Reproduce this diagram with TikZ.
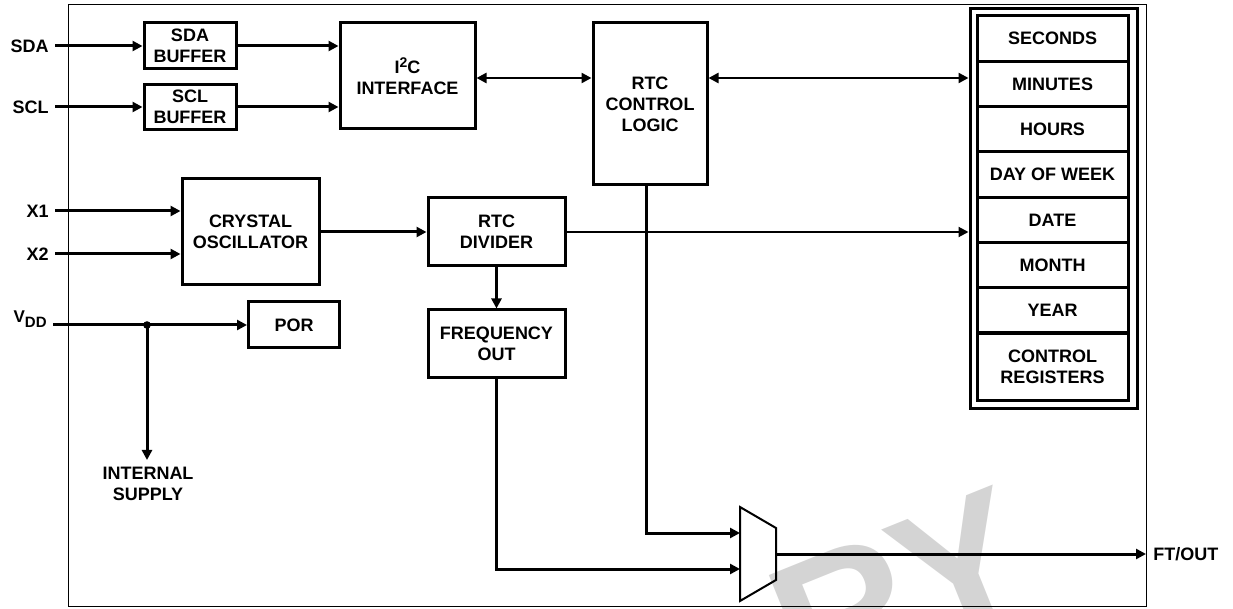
\documentclass[tikz,border=0pt]{standalone}
\usepackage{fontspec}
\setmainfont{Liberation Sans}
\usetikzlibrary{arrows.meta}
\begin{document}
\begin{tikzpicture}[x=0.5pt,y=-0.5pt,
  box/.style={draw,line width=1.5pt,inner sep=0pt,align=center,font=\bfseries\fontsize{9}{10.5}\selectfont},
  lbl/.style={inner sep=0pt,align=center,font=\bfseries\fontsize{9}{10.5}\selectfont},
  reg/.style={box,minimum width=75.5pt},
  bus/.style={line width=1.5pt,-{Triangle[length=5pt,width=5pt]}},
  thinbus/.style={line width=1pt,-{Triangle[length=5pt,width=5pt]}},
  dbl/.style={line width=1.2pt,{Triangle[length=5pt,width=5pt]}-{Triangle[length=5pt,width=5pt]}},
]
\useasboundingbox (0,0) rectangle (1233,609);
% watermark
\begin{scope}
\clip (0,0) rectangle (1233,609);
\node[rotate=22,anchor=base,inner sep=0pt,text=black!17,font=\bfseries\fontsize{95}{95}\selectfont] (wm) at (926,653) {RY};
\end{scope}
% frame
\draw[line width=0.5pt] (68,5) rectangle (1146,606);
% blocks
\node[box,minimum width=46pt,minimum height=23pt] (sdab) at (190,46) {SDA\\BUFFER};
\node[box,minimum width=46pt,minimum height=22.5pt] (sclb) at (190,107) {SCL\\BUFFER};
\node[box,minimum width=67.5pt,minimum height=53pt] (i2c) at (407.5,76) {I\raisebox{3.2pt}{\fontsize{7}{8}\selectfont 2}C\\INTERFACE};
\node[box,minimum width=57pt,minimum height=81pt] (rtc) at (650,104) {RTC\\CONTROL\\LOGIC};
\node[box,minimum width=68.5pt,minimum height=53pt] (osc) at (250.5,232) {CRYSTAL\\OSCILLATOR};
\node[box,minimum width=68.5pt,minimum height=34pt] (div) at (496.5,232) {RTC\\DIVIDER};
\node[box,minimum width=68.5pt,minimum height=34pt] (fout) at (496.5,344) {FREQUENCY\\OUT};
\node[box,minimum width=45.5pt,minimum height=23pt] (por) at (294,325) {POR};
% registers
\node[draw,line width=1.5pt,minimum width=83.5pt,minimum height=200pt,inner sep=0pt] (regs) at (1053.5,209) {};
\node[reg,minimum height=22.67pt] (r1) at (1052.5,38.67) {SECONDS};
\node[reg,minimum height=22.67pt] (r2) at (1052.5,84) {MINUTES};
\node[reg,minimum height=22.67pt] (r3) at (1052.5,129.33) {HOURS};
\node[reg,minimum height=22.67pt] (r4) at (1052.5,174.67) {DAY OF WEEK};
\node[reg,minimum height=22.67pt] (r5) at (1052.5,220) {DATE};
\node[reg,minimum height=22.67pt] (r6) at (1052.5,265.33) {MONTH};
\node[reg,minimum height=22.67pt] (r7) at (1052.5,310.67) {YEAR};
\node[reg,minimum height=34pt] (r8) at (1052.5,367) {CONTROL\\REGISTERS};
% labels
\node[lbl,anchor=east] (sda) at (49,46) {SDA};
\node[lbl,anchor=east] (scl) at (49,107) {SCL};
\node[lbl,anchor=east] (x1) at (49,211) {X1};
\node[lbl,anchor=east] (x2) at (49,254) {X2};
\node[lbl,anchor=base east] (vdd) at (47,328) {\raisebox{2.5pt}{\fontsize{8.5}{9}\selectfont V}\fontsize{7.5}{8}\selectfont DD};
\node[lbl,anchor=west] (ft) at (1153,554) {FT/OUT};
\node[lbl,anchor=north] (isup) at (148,467) {INTERNAL\\SUPPLY};
% coordinates
\coordinate (busy) at (0,78);
\coordinate (vdot) at (147,325);
\coordinate (m1) at (740,507);
\coordinate (m2) at (776,528);
\coordinate (m3) at (776,580);
\coordinate (m4) at (740,601);
\coordinate (mi1) at (740,533);
\coordinate (mi2) at (740,569);
\coordinate (mo) at (776,554);
% mux
\draw[line width=1pt,line join=miter] (m1) -- (m2) -- (m3) -- (m4) -- cycle;
% connectors
\draw[bus,shorten <=3pt] (sda.east) -- (sdab.west);
\draw[bus,shorten <=3pt] (scl.east) -- (sclb.west);
\draw[bus] (sdab.east) -- (sdab.east -| i2c.west);
\draw[bus] (sclb.east) -- (sclb.east -| i2c.west);
\draw[dbl] (i2c.east |- busy) -- (rtc.west |- busy);
\draw[dbl] (rtc.east |- busy) -- (regs.west |- busy);
\draw[bus,shorten <=3pt] (x1.east) -- (x1.east -| osc.west);
\draw[bus,shorten <=3pt] (x2.east) -- (x2.east -| osc.west);
\draw[bus] (osc.east) -- (osc.east -| div.west);
\draw[thinbus] (div.east) -- (div.east -| regs.west);
\draw[bus] (div.south) -- (fout.north);
\draw[bus,shorten <=3pt] (vdd.east |- por.west) -- (por.west);
\fill (vdot) circle (1.9pt);
\draw[bus,shorten >=3.5pt] (vdot) -- (vdot |- isup.north);
\draw[bus] ([xshift=-2pt]rtc.south) |- (mi1);
\draw[bus] (fout.south) |- (mi2);
\draw[bus,shorten >=3.5pt] (mo) -- (mo -| ft.west);
\end{tikzpicture}
\end{document}
